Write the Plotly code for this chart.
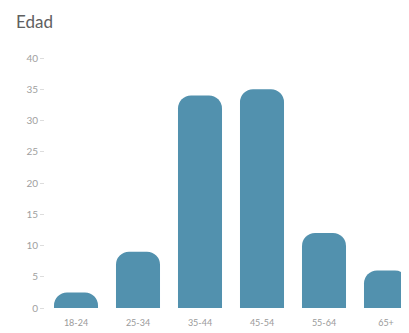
import plotly.graph_objects as go

# age groups and share of respondents
grupos = ["18-24", "25-34", "35-44", "45-54", "55-64", "65+"]
valores = [2.5, 9, 34, 35, 12, 6]
y_ticks = [0, 5, 10, 15, 20, 25, 30, 35, 40]

fig = go.Figure()

fig.add_trace(go.Bar(
    x=grupos,
    y=valores,
    marker=dict(color="#5291ae", line=dict(width=0)),
    hoverinfo="x+y",
))

fig.update_layout(
    width=409,
    height=333,
    margin=dict(l=37, r=0, t=50, b=33),
    paper_bgcolor="white",
    plot_bgcolor="white",
    bargap=0.29,
    barcornerradius=13,
    showlegend=False,
    font=dict(family="Lato, sans-serif", size=9, color="#9a9a9a"),
)

fig.add_annotation(
    text="Edad", xref="paper", yref="paper", x=-0.083, y=1.148,
    xanchor="left", yanchor="middle", showarrow=False,
    font=dict(family="Lato, sans-serif", size=17, color="#606060"),
)

fig.update_xaxes(
    range=[-0.5, 5.5],
    showgrid=False, zeroline=False, showline=False,
    ticks="", ticklabelstandoff=8,
    tickfont=dict(size=9, color="#9a9a9a"),
)
fig.update_yaxes(
    range=[0, 40],
    tickvals=y_ticks,
    showgrid=False, zeroline=False, showline=False,
    ticks="outside", ticklen=4, tickcolor="#dddddd",
    tickfont=dict(size=10, color="#a0a0a0"),
)

fig.write_html("out.html")
